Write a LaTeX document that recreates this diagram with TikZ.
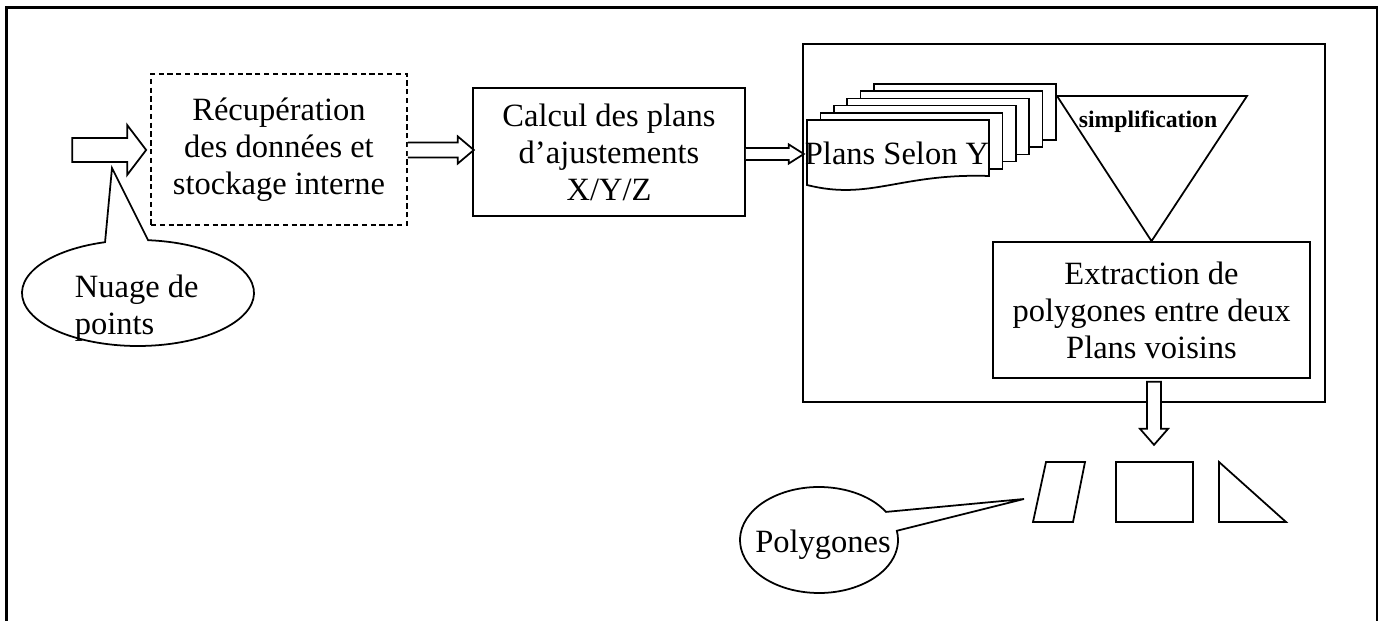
\documentclass[tikz,border=0pt]{standalone}
\usepackage{fontspec}
\setmainfont{Liberation Serif}
\usetikzlibrary{calc}

\begin{document}
\begin{tikzpicture}[x=0.02cm,y=0.02cm,line width=1pt,
  every node/.style={font=\fontsize{18.5}{21}\selectfont},
  box/.style={draw,align=center,inner sep=0pt},
  hollow/.style={draw,fill=white,line join=miter}]
        \useasboundingbox (0,0) rectangle (1381,621);
        \draw[line width=1.3pt] (6.5,0) -- (6.5,613.5) -- (1377,613.5) -- (1377,0);
        \node[box,dash pattern=on 3pt off 2pt,minimum width=5.12cm,minimum height=3.02cm]
          (recup) at (279,471.5) {Récupération\\des données et\\stockage interne};
        \node[box,minimum width=5.44cm,minimum height=2.56cm]
          (calc) at (609,469) {Calcul des plans\\d’ajustements\\X/Y/Z};
        \draw (803,219) rectangle (1325,577);
        \node[box,minimum width=6.34cm,minimum height=2.72cm]
          (extr) at (1151.5,311) {Extraction de\\polygones entre deux\\Plans voisins};
        \draw (1057,525) -- (1247,525) -- (extr.north) -- cycle;
        \node[font=\bfseries\fontsize{13.5}{16}\selectfont] (simp) at (1148,499) {simplification};
        \foreach \i in {5,4,...,1} {
          \draw[fill=white] ({807+13.4*\i},{445+7.2*\i}) rectangle ++(182,56);
        }
        \draw[fill=white] (807,501) -- (989,501) -- (989,445)
          .. controls (900,448) and (870,420) .. (807,436) -- cycle;
        \node (plans) at (897,468) {Plans Selon Y};
        \draw[hollow] (recup.west) ++(-4,-0.5) -- ++(-19,25) -- ++(0,-13) -- ++(-55,0)
          -- ++(0,-24) -- ++(55,0) -- ++(0,-13) -- cycle;
        \draw[hollow] (recup.east) ++(0,7) -- ++(50,0) -- ++(0,6) -- ++(16,-13.5)
          -- ++(-16,-13.5) -- ++(0,6) -- ++(-50,0);
        \draw[hollow] (calc.east) ++(0,4) -- ++(43,0) -- ++(0,3.5) -- ++(15,-9.5)
          -- ++(-15,-9.5) -- ++(0,3.5) -- ++(-43,0);
        \coordinate (dtop) at ($(extr.south)+(2.5,-3)$);
        \draw[hollow] (dtop) ++(-7,0) -- ++(0,-47) -- ++(-7,0) -- ++(14,-16)
          -- ++(14,16) -- ++(-7,0) -- ++(0,47) -- cycle;
        \draw (1046,159) -- (1085,159) -- (1073,99) -- (1033,99) -- cycle;
        \draw (1116,99) rectangle (1193,159);
        \draw (1219,159) -- (1219,99) -- (1286,99) -- cycle;
        \coordinate (nuagetip) at (112,453);
        \draw[fill=white] (138,328) ++(106.5:116 and 53)
          arc[start angle=106.5,end angle=445,x radius=116,y radius=53] -- (nuagetip) -- cycle;
        \node[align=left,anchor=west,inner sep=0pt] (nuagetxt) at (74,312.5) {Nuage de\\points};
        \coordinate (polytip) at (1024,122);
        \draw[fill=white] (819,81) ++(32:79 and 53)
          arc[start angle=32,end angle=370,x radius=79,y radius=53] -- (polytip) -- cycle;
        \node (polytxt) at (823,76) {Polygones};
\end{tikzpicture}
\end{document}
